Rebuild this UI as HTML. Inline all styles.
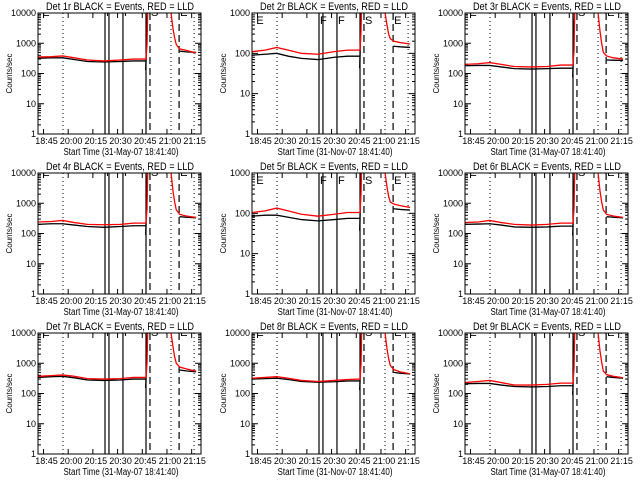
<!DOCTYPE html>
<html><head><meta charset="utf-8"><style>
html,body{margin:0;padding:0;background:#fff;}
svg{display:block;font-family:"Liberation Sans",sans-serif;}
</style></head><body>
<svg id="chart" width="640" height="480" viewBox="0 0 640 480" xmlns="http://www.w3.org/2000/svg"></svg>
<script>
// ---- data ----
const detectors = ["1r","2r","3r","4r","5r","6r","7r","8r","9r"];
const decades = [4,3,4,4,3,4,4,4,4];
const preTimes = [0, 8, 15, 22, 30, 40, 50, 58, 65.6];
const postRedTimes = [80.8, 82, 83, 84, 86, 90, 96];
const postBlackTimes = [86, 90, 96];
const redPre = [
 [350,360,380,330,280,260,280,300,300],
 [110,120,140,120,100,95,110,120,120],
 [200,210,230,200,170,165,170,190,190],
 [240,250,270,230,200,195,200,220,220],
 [105,115,135,115,95,85,95,105,105],
 [230,240,270,230,200,190,200,220,220],
 [370,390,410,370,310,300,310,340,340],
 [320,340,360,320,270,250,270,290,300],
 [230,250,270,230,190,190,200,220,220]];
const blackPre = [
 [320,330,330,290,250,240,250,260,260],
 [90,95,100,85,75,70,80,85,85],
 [180,185,185,165,145,140,145,150,150],
 [200,210,210,190,170,160,170,180,180],
 [85,90,90,80,70,65,70,75,75],
 [200,205,210,190,165,160,165,175,175],
 [340,360,370,330,280,270,280,300,300],
 [300,310,320,290,250,235,245,260,260],
 [210,215,215,190,170,165,170,180,180]];
const redPost = [
 [10000,3000,1500,900,650,580,480],
 [1000,500,300,230,200,185,170],
 [10000,2500,1000,500,380,330,300],
 [10000,2500,1100,600,430,380,340],
 [1000,450,260,190,170,155,140],
 [10000,2500,1100,600,430,380,340],
 [10000,3500,1600,1000,750,650,550],
 [10000,3000,1400,850,620,520,450],
 [10000,2500,1100,550,420,370,330]];
const blackPost = [
 [550,520,500],[150,145,140],[280,275,270],[360,345,330],[130,125,120],[360,345,330],[600,560,520],[500,470,440],[360,340,320]];
const tickTimes = [3.33,18.33,33.33,48.33,63.33,78.33,93.33];
const tickLabels = ["18:45","20:00","20:15","20:30","20:45","21:00","21:15"];
const tickLabelsAlt = ["18:45","20:30","20:15","20:30","20:45","21:00","21:15"];
const solidLines = [40.7, 43.1, 51.6, 65.6];
const dottedLines = [15.2, 80.8, 94.8];
const dashedLines = [68, 85.7];
const markTimes = [2, 40.7, 51.6, 68, 85.7];
const markLabels = ["E","F","F","S","E"];

const NS = "http://www.w3.org/2000/svg";
const svg = document.getElementById('chart');
function mk(tag, attrs, parent){
  const e = document.createElementNS(NS, tag);
  for (const k in attrs) e.setAttribute(k, attrs[k]);
  (parent||svg).appendChild(e);
  return e;
}
const colX = [0, 214, 427];
const rowY = [0, 160, 320];
const T0 = 0, T1 = 99, BW = 163, BH = 121;

detectors.forEach((det, i) => {
  const ox = colX[i % 3] + 38, oy = rowY[Math.floor(i / 3)] + 13;
  const nd = decades[i];
  const xs = t => ox + (t - T0) / (T1 - T0) * BW;
  const ys = v => oy + BH - (Math.log10(v) / nd) * BH;
  const g = mk('g', {});
  
  
  const cid = 'clip' + i;
  const cp = mk('clipPath', {id: cid}, g);
  mk('rect', {x: ox, y: oy, width: BW, height: BH}, cp);

  const title = mk('text', {x: ox + 82, y: oy - 3, 'text-anchor': 'middle', 'font-size': 11, textLength: 148, lengthAdjust: 'spacingAndGlyphs'}, g);
  title.textContent = 'Det ' + det + ' BLACK = Events, RED = LLD';
  
  

  const yl = mk('text', {x: 0, y: 0, transform: 'translate(' + (ox - 26) + ',' + (oy + BH / 2) + ') rotate(-90)', 'text-anchor': 'middle', 'font-size': 8}, g);
  yl.textContent = 'Counts/sec';
  
  

  const xl = mk('text', {x: ox + 83, y: oy + 142, 'text-anchor': 'middle', 'font-size': 10, textLength: 115, lengthAdjust: 'spacingAndGlyphs'}, g);
  xl.textContent = (i % 3 === 1) ? 'Start Time (31-Nov-07 18:41:40)' : 'Start Time (31-May-07 18:41:40)';
  
  

  for (let d = 0; d <= nd; d++) {
    const v = Math.pow(10, d), y = ys(v);
    mk('line', {x1: ox, x2: ox + 6, y1: y, y2: y, stroke: '#000'}, g);
    mk('line', {x1: ox + BW - 6, x2: ox + BW, y1: y, y2: y, stroke: '#000'}, g);
    const lt = mk('text', {x: ox - 2, y: y + 3, 'text-anchor': 'end', 'font-size': 9}, g);
    lt.textContent = String(v);
    
    
    if (d < nd) for (let m = 2; m <= 9; m++) {
      const ym = ys(m * v);
      mk('line', {x1: ox, x2: ox + 3, y1: ym, y2: ym, stroke: '#000'}, g);
      mk('line', {x1: ox + BW - 3, x2: ox + BW, y1: ym, y2: ym, stroke: '#000'}, g);
    }
  }
  const labs = (i % 3 === 1) ? tickLabelsAlt : tickLabels;
  tickTimes.forEach((t, k) => {
    const x = xs(t);
    mk('line', {x1: x, x2: x, y1: oy + BH, y2: oy + BH - 5, stroke: '#000'}, g);
    mk('line', {x1: x, x2: x, y1: oy, y2: oy + 5, stroke: '#000'}, g);
    const lt = mk('text', {x: x + 3, y: oy + BH + 10, 'text-anchor': 'middle', 'font-size': 9}, g);
    lt.textContent = labs[k];
    
    
  });

  const pg = mk('g', {'clip-path': 'url(#' + cid + ')'}, g);
  solidLines.forEach(t => mk('line', {x1: xs(t), x2: xs(t), y1: oy, y2: oy + BH, stroke: '#000', 'stroke-width': 1.2}, pg));
  dottedLines.forEach(t => mk('line', {x1: xs(t), x2: xs(t), y1: oy, y2: oy + BH, stroke: '#000', 'stroke-dasharray': '1,3'}, pg));
  dashedLines.forEach(t => mk('line', {x1: xs(t), x2: xs(t), y1: oy, y2: oy + BH, stroke: '#000', 'stroke-dasharray': '7,4', 'stroke-width': 1.2}, pg));
  markTimes.forEach((t, k) => {
    const mt = mk('text', {x: xs(t) + 1, y: nd === 3 ? oy + 11 : oy + 3, 'font-size': 11}, pg);
    mt.textContent = markLabels[k];
    
    
  });

  function linePts(ts, vs) {
    return ts.map((t, k) => xs(t) + ',' + ys(vs[k]));
  }
  const bp = linePts(preTimes, blackPre[i]);
  const lastB = blackPre[i][blackPre[i].length - 1];
  bp.push(xs(65.4) + ',' + ys(lastB * 0.5), xs(65.6) + ',' + ys(lastB), xs(67) + ',' + ys(Math.pow(10, nd + 1)));
  const bl = mk('polyline', {points: bp.join(' '), fill: 'none', stroke: '#000', 'stroke-width': 1.3}, pg);
  
  
  const bl2 = mk('polyline', {points: linePts(postBlackTimes, blackPost[i]).join(' '), fill: 'none', stroke: '#000', 'stroke-width': 1.3}, pg);
  
  
  const rp = linePts(preTimes, redPre[i]);
  const lastR = redPre[i][redPre[i].length - 1];
  rp.push(xs(66.2) + ',' + ys(lastR * 3), xs(67) + ',' + ys(Math.pow(10, nd + 1)));
  const rl = mk('polyline', {points: rp.join(' '), fill: 'none', stroke: '#ff0000', 'stroke-width': 1.3}, pg);
  
  
  const rpp = linePts(postRedTimes, redPost[i]);
  rpp.unshift(xs(80.5) + ',' + ys(Math.pow(10, nd + 1)));
  const rl2 = mk('polyline', {points: rpp.join(' '), fill: 'none', stroke: '#ff0000', 'stroke-width': 1.3}, pg);
  
  

  const fr = mk('rect', {x: ox, y: oy, width: BW, height: BH, fill: 'none', stroke: '#000', 'stroke-width': 1}, g);
  
  
});
</script>
</body></html>
